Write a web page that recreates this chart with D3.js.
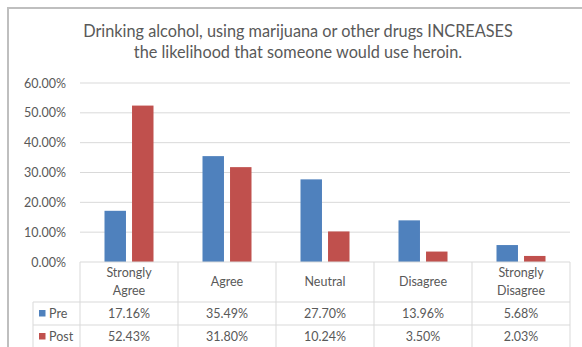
<!DOCTYPE html>
<html>
<head>
<meta charset="utf-8">
<script src="https://cdn.jsdelivr.net/npm/d3@7"></script>
<style>
  html, body { margin: 0; padding: 0; background: #fff; }
  svg { display: block; font-family: Lato, "Open Sans", sans-serif; }
</style>
</head>
<body>
<svg id="chart" width="582" height="347"></svg>
<script>
// Survey responses, before and after the session
const categories = ["Strongly Agree", "Agree", "Neutral", "Disagree", "Strongly Disagree"];
const categoryLines = [["Strongly", "Agree"], ["Agree"], ["Neutral"], ["Disagree"], ["Strongly", "Disagree"]];
const series = ["Pre", "Post"];
const preValues = [0.1716, 0.3549, 0.2770, 0.1396, 0.0568];
const postValues = [0.5243, 0.3180, 0.1024, 0.0350, 0.0203];
const seriesColors = ["#4F81BD", "#C0504D"];
const yTicks = [0, 0.1, 0.2, 0.3, 0.4, 0.5, 0.6];
const titleLines = [
  "Drinking alcohol, using marijuana or other drugs INCREASES",
  "the likelihood that someone would use heroin."
];

const valuesBySeries = [preValues, postValues];
const svg = d3.select("#chart");
const textColor = "#595959";
const gridColor = "#D9D9D9";

// Outer chart frame
svg.append("rect")
  .attr("x", 8).attr("y", 8)
  .attr("width", 620).attr("height", 380)
  .attr("fill", "#fff")
  .attr("stroke", "#BFBFBF")
  .attr("stroke-width", 2);

// Title
const title = svg.append("g").attr("fill", textColor).attr("text-anchor", "middle");
titleLines.forEach((t, i) => {
  title.append("text")
    .attr("x", 298)
    .attr("y", 37 + i * 21)
    .attr("font-size", 16)
    .text(t);
});
// fit the first line to its width, keep both lines at same size
const firstLen = title.select("text").node().getComputedTextLength();
const fs = 16 * 430 / firstLen;
title.selectAll("text").attr("font-size", fs);

// Scales
const plotLeft = 80, plotRight = 570, plotTop = 83, plotBottom = 262;
const x = d3.scaleBand().domain(categories).range([plotLeft, plotRight]).padding(0);
const y = d3.scaleLinear().domain([0, 0.6]).range([plotBottom, plotTop]);
const xs = d3.scaleBand().domain(series)
  .range([x.bandwidth() * 0.25, x.bandwidth() * 0.75])
  .paddingInner(0.22).paddingOuter(0);

// Gridlines
svg.append("g")
  .selectAll("line")
  .data(yTicks.filter(d => d > 0))
  .join("line")
  .attr("x1", plotLeft).attr("x2", plotRight)
  .attr("y1", d => y(d)).attr("y2", d => y(d))
  .attr("stroke", gridColor).attr("stroke-width", 1);

// Y axis labels
const yAxis = d3.axisLeft(y).tickValues(yTicks).tickFormat(d3.format(".2%")).tickSize(0).tickPadding(0);
const yg = svg.append("g").attr("transform", "translate(66,0)").call(yAxis);
yg.select(".domain").remove();
yg.selectAll("text").attr("fill", textColor).attr("font-size", 12.5)
  .attr("font-family", "Lato, 'Open Sans', sans-serif");

// Bars
series.forEach((s, si) => {
  svg.append("g")
    .selectAll("rect")
    .data(categories.map((c, i) => ({ c, v: valuesBySeries[si][i] })))
    .join("rect")
    .attr("x", d => x(d.c) + xs(s))
    .attr("width", xs.bandwidth())
    .attr("y", d => y(d.v))
    .attr("height", d => y(0) - y(d.v))
    .attr("fill", seriesColors[si]);
});

// Data table beneath the axis
const legendLeft = 33;
const headerBottom = 302, rowH = 23;
const table = svg.append("g").attr("stroke", gridColor).attr("stroke-width", 1);
// axis / table top
table.append("line").attr("x1", plotLeft).attr("x2", plotRight)
  .attr("y1", plotBottom).attr("y2", plotBottom);
// horizontal row lines
[headerBottom, headerBottom + rowH, headerBottom + 2 * rowH].forEach(yy => {
  table.append("line").attr("x1", legendLeft).attr("x2", plotRight)
    .attr("y1", yy).attr("y2", yy);
});
// vertical cell lines
const bounds = categories.map(c => x(c)).concat([plotRight]);
table.selectAll("line.v").data(bounds).join("line").attr("class", "v")
  .attr("x1", d => d).attr("x2", d => d)
  .attr("y1", plotBottom).attr("y2", headerBottom + 2 * rowH);
table.append("line").attr("x1", legendLeft).attr("x2", legendLeft)
  .attr("y1", headerBottom).attr("y2", headerBottom + 2 * rowH);

// Category header labels
const header = svg.append("g").attr("fill", textColor).attr("text-anchor", "middle").attr("font-size", 12.5);
categories.forEach((c, i) => {
  const lines = categoryLines[i];
  const cx = x(c) + x.bandwidth() / 2;
  const mid = (plotBottom + headerBottom) / 2;
  lines.forEach((ln, li) => {
    header.append("text")
      .attr("x", cx)
      .attr("y", mid + (li - (lines.length - 1) / 2) * 18)
      .attr("dy", "0.35em")
      .text(ln);
  });
});

// Value rows with legend keys
const fmt = d3.format(".2%");
series.forEach((s, si) => {
  const cy = headerBottom + rowH * si + rowH / 2;
  svg.append("rect")
    .attr("x", 39).attr("y", cy - 3.5)
    .attr("width", 6.5).attr("height", 6.5)
    .attr("fill", seriesColors[si]);
  svg.append("text")
    .attr("x", 49).attr("y", cy).attr("dy", "0.35em")
    .attr("fill", textColor).attr("font-size", 12.5)
    .text(s);
  svg.append("g").selectAll("text")
    .data(categories.map((c, i) => ({ c, v: valuesBySeries[si][i] })))
    .join("text")
    .attr("x", d => x(d.c) + x.bandwidth() / 2)
    .attr("y", cy).attr("dy", "0.35em")
    .attr("text-anchor", "middle")
    .attr("fill", textColor).attr("font-size", 12.5)
    .text(d => fmt(d.v));
});
</script>
</body>
</html>
